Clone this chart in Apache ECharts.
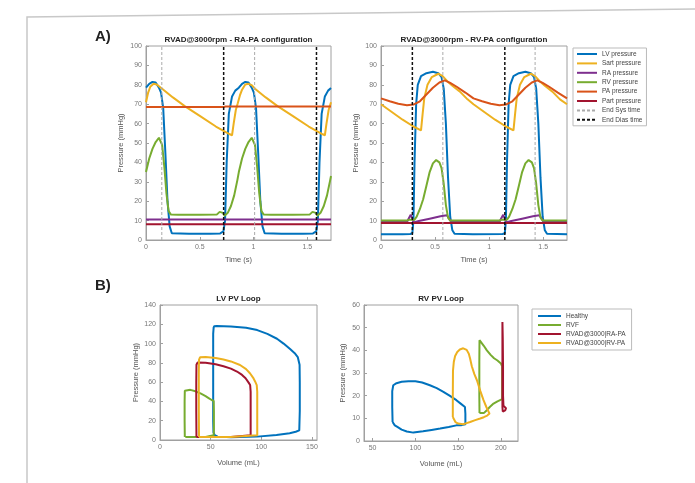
<!DOCTYPE html>
<html>
<head>
<meta charset="utf-8">
<title>RVAD pressures and PV loops</title>
<script src="https://cdn.jsdelivr.net/npm/echarts@6/dist/echarts.min.js"></script>
<style>
  html, body { margin: 0; padding: 0; background: #fff; }
  #chart { width: 695px; height: 483px; }
</style>
</head>
<body>
<div id="chart"></div>
<script>
// ---- A) RVAD@3000rpm, RA-PA configuration : [time (s), pressure (mmHg)]
var lvRaPa = [[0,78.5],[0.03,80.5],[0.06,81.5],[0.09,81.2],[0.12,78.5],[0.14,76],[0.16,68],[0.18,45],[0.20,20],[0.22,7],[0.24,3.5],[0.40,3.2],[0.60,3.2],[0.69,3.4],[0.72,4.5],[0.735,10],[0.75,40],[0.77,65],[0.80,74],[0.83,77],[0.863,78.5],[0.893,80.5],[0.923,81.5],[0.953,81.2],[0.983,78.5],[1.003,76],[1.023,68],[1.043,45],[1.063,20],[1.083,7],[1.103,3.5],[1.26,3.2],[1.46,3.2],[1.553,3.4],[1.583,4.5],[1.598,10],[1.613,40],[1.633,65],[1.663,74],[1.693,77],[1.72,78.3]];
var sartRaPa = [[0,71],[0.02,76],[0.04,79],[0.07,80.5],[0.10,80.2],[0.15,78],[0.25,73.5],[0.36,69],[0.50,64],[0.65,58.5],[0.78,54.5],[0.80,54],[0.815,60],[0.835,67],[0.853,70.5],[0.873,74.5],[0.893,77.5],[0.923,80.2],[0.953,80.5],[0.983,79.8],[1.013,78],[1.113,73.5],[1.223,69],[1.363,64],[1.513,58.5],[1.643,54.5],[1.663,54],[1.678,60],[1.698,67],[1.72,71]];
var raRaPa = [[0,10.6],[0.5,10.6],[1.0,10.6],[1.72,10.6]];
var rvRaPa = [[0,35],[0.03,42],[0.06,47],[0.09,50.5],[0.12,52.7],[0.135,53],[0.15,49],[0.17,38],[0.19,24],[0.21,15],[0.23,13.2],[0.30,13],[0.50,13],[0.66,13.2],[0.685,14.5],[0.70,15.5],[0.715,14],[0.73,12.5],[0.76,14],[0.79,17.5],[0.82,23],[0.85,31],[0.863,35],[0.893,42],[0.923,47],[0.953,50.5],[0.983,52.7],[0.998,53],[1.013,49],[1.033,38],[1.053,24],[1.073,15],[1.093,13.2],[1.163,13],[1.363,13],[1.523,13.2],[1.548,14.5],[1.563,15.5],[1.578,14],[1.593,12.5],[1.623,14],[1.653,17.5],[1.683,23],[1.713,31],[1.72,33]];
var paRaPa = [[0,68.5],[0.72,68.5],[0.74,68.8],[1.72,68.8]];
var partRaPa = [[0,8.1],[0.5,8.1],[1.0,8.1],[1.72,8.1]];
var endSysRaPa = [0.147, 1.01];
var endDiasRaPa = [0.722, 1.585];

// ---- A) RVAD@3000rpm, RV-PA configuration
var lvRvPa = [[0,3],[0.20,3],[0.27,3.1],[0.29,3.5],[0.30,10],[0.31,40],[0.325,70],[0.34,80],[0.37,84.5],[0.42,86],[0.48,86.7],[0.53,86],[0.56,84],[0.58,78],[0.60,60],[0.62,32],[0.64,12],[0.66,5],[0.68,3.2],[0.85,3],[1.125,3.1],[1.145,3.5],[1.155,10],[1.165,40],[1.18,70],[1.195,80],[1.225,84.5],[1.275,86],[1.335,86.7],[1.385,86],[1.415,84],[1.435,78],[1.455,60],[1.475,32],[1.495,12],[1.515,5],[1.535,3.2],[1.72,3]];
var sartRvPa = [[0,70],[0.10,66],[0.20,62],[0.30,58.5],[0.37,56.5],[0.385,65],[0.40,73],[0.43,80],[0.47,84],[0.53,85.7],[0.57,84.5],[0.61,82],[0.66,79.5],[0.73,76.5],[0.80,72.5],[0.855,70],[0.955,66],[1.055,62],[1.155,58.5],[1.225,56.5],[1.24,65],[1.255,73],[1.285,80],[1.325,84],[1.385,85.7],[1.425,84.5],[1.465,82],[1.515,79.5],[1.585,76.5],[1.655,72.5],[1.72,70]];
var raRvPa = [[0,9.3],[0.24,9.3],[0.26,11.5],[0.275,13],[0.29,11],[0.30,9],[0.35,9.8],[0.45,11],[0.55,12.2],[0.61,12.8],[0.63,11],[0.65,9.3],[1.095,9.3],[1.115,11.5],[1.13,13],[1.145,11],[1.155,9],[1.205,9.8],[1.305,11],[1.405,12.2],[1.465,12.8],[1.485,11],[1.505,9.3],[1.72,9.3]];
var rvRvPa = [[0,10],[0.24,10],[0.26,10.5],[0.275,11.5],[0.29,10.5],[0.31,10.5],[0.33,12],[0.36,16],[0.39,21],[0.42,28],[0.45,35],[0.48,39.5],[0.51,41.2],[0.54,40],[0.56,37],[0.58,29],[0.60,18],[0.62,11.5],[0.64,10],[0.85,10],[1.095,10],[1.115,10.5],[1.13,11.5],[1.145,10.5],[1.165,10.5],[1.185,12],[1.215,16],[1.245,21],[1.275,28],[1.305,35],[1.335,39.5],[1.365,41.2],[1.395,40],[1.415,37],[1.435,29],[1.455,18],[1.475,11.5],[1.495,10],[1.72,10]];
var paRvPa = [[0,73],[0.08,71.5],[0.16,70.2],[0.24,69.5],[0.30,69.8],[0.36,71.5],[0.42,75],[0.48,78.5],[0.54,81.2],[0.59,82.3],[0.64,81],[0.70,79],[0.78,76],[0.855,73],[0.935,71.5],[1.015,70.2],[1.095,69.5],[1.155,69.8],[1.215,71.5],[1.275,75],[1.335,78.5],[1.395,81.2],[1.445,82.3],[1.495,81],[1.555,79],[1.635,76],[1.72,73]];
var partRvPa = [[0,8.7],[0.5,8.7],[1.0,8.7],[1.72,8.7]];
var endSysRvPa = [0.572, 1.425];
var endDiasRvPa = [0.29, 1.145];

// ---- B) LV PV loops : [volume (mL), pressure (mmHg)]
var lvHealthy = [[53,117],[52.5,110],[52.5,60],[52.5,20],[52.8,8],[54,5],[57,3.5],[70,2.8],[96,3.5],[115,5.2],[128,7],[134,8.6],[137.5,10],[138,30],[138,60],[137.8,78],[136,86],[133,90],[128.7,94],[122,100],[115.5,105],[106,110],[96,114],[85,116.5],[70,117.8],[56,118.3],[53.5,118],[53,117]];
var lvRvf = [[24.5,3],[24.3,20],[24.3,40],[24.5,51],[26,52.3],[30,52],[35,50.5],[40,48.3],[45,45.5],[48,43.5],[51,41.5],[53,40.5],[53.2,30],[53.2,10],[53,5],[52,3.5],[45,3.2],[35,3],[25,3],[24.5,3]];
var lvRaPaLoop = [[36,3],[35.8,30],[35.8,60],[36,78],[37,80.3],[38,80.5],[45,80],[55,78.5],[62.7,76.5],[70,74],[76,71],[81,67.5],[84.5,64],[87.5,59.5],[89,57],[89.5,50],[89.5,20],[89.5,5],[88,3.3],[70,3],[50,3],[36,3]];
var lvRvPaLoop = [[38.5,3],[38.3,30],[38.3,70],[38.5,83],[39.5,85.7],[45,86],[55,85],[62.7,83.5],[70,81.5],[79,77.8],[85,73.5],[89,69],[92,64.5],[94,60.5],[95.5,57],[96,50],[96,20],[96,5],[94.5,3.2],[70,3],[50,3],[38.5,3]];

// ---- B) RV PV loops
var rvHealthy = [[73.4,8.4],[73,15],[73,22],[74.2,24.6],[78,25.5],[84,26.1],[92,26.4],[100,26.4],[108,25.8],[117,24.6],[125,23.3],[132.8,21.7],[140,20],[148,18],[153,16.5],[158,15],[158.5,12],[158.5,7.4],[154,7],[148,6.9],[139,6.2],[129,5.5],[119,4.9],[109,4.3],[97.7,3.7],[90,4.2],[84,5],[79,6.2],[76,6.9],[73.4,8.4]];
var rvRvf = [[175,12.4],[174.8,20],[174.8,35],[175,44.5],[176,44.3],[180,42],[183.6,40],[188,38],[192,36.5],[196,35.5],[200,34.2],[201.5,33],[201.5,25],[201.5,18.5],[196,17.5],[191.4,16.5],[187,15],[183.6,13.6],[180,12.3],[177.7,11.8],[175,12.4]];
var rvRaPaLoop = [[201.8,52.5],[201.8,40],[201.8,25],[201.8,15],[202.2,13],[203.5,12.6],[205,13.5],[206,14.5],[204.5,14.3],[203,15.5],[202.5,20],[202.5,33],[202.2,45],[201.8,52.5]];
var rvRvPaLoop = [[143.8,10.6],[143.8,20],[144,31],[145,35],[146.5,37.5],[149,39.3],[152,40.4],[156,40.9],[160,40.2],[162.5,38.5],[164,36.4],[166,33],[169,29.5],[172,26.8],[176,22],[179.7,18],[183,15],[186.7,12.1],[184,11.2],[180,10.5],[175.8,9.9],[170,9.2],[164,8.4],[160,7.9],[156,7.4],[150,7.7],[147,8.3],[145.3,9.1],[143.8,10.6]];

var timeTicks = [0, 0.5, 1, 1.5];
var lvVolTicks = [0, 50, 100, 150];
var rvVolTicks = [50, 100, 150, 200];

var topNames = ['LV pressure', 'Sart pressure', 'RA pressure', 'RV pressure', 'PA pressure', 'Part pressure', 'End Sys time', 'End Dias time'];
var loopNames = ['Healthy', 'RVF', 'RVAD@3000|RA-PA', 'RVAD@3000|RV-PA'];

var C = {
  blue: '#0072BD', yellow: '#EDB120', purple: '#7E2F8E',
  green: '#77AC30', orange: '#D95319', red: '#A2142F'
};
var FONT = '"Liberation Sans", Arial, sans-serif';
var AXIS = '#a0a0a0';

function curve(name, data, color, gi) {
  return {
    type: 'line', name: name, data: data,
    xAxisIndex: gi, yAxisIndex: gi,
    symbol: 'none', showSymbol: false,
    lineStyle: { color: color, width: 2 },
    itemStyle: { color: color },
    z: 2
  };
}

function vlines(name, times, gi, color, width, dash) {
  return times.map(function (t) {
    return {
      type: 'line', name: name, data: [[t, 0], [t, 100]],
      xAxisIndex: gi, yAxisIndex: gi,
      symbol: 'none', showSymbol: false,
      lineStyle: { color: color, width: width, type: dash },
      itemStyle: { color: color },
      z: 3
    };
  });
}

function xAx(gi, min, max, ticks, gap) {
  return {
    type: 'value', gridIndex: gi, min: min, max: max,
    name: gi < 2 ? 'Time (s)' : 'Volume (mL)',
    nameLocation: 'middle', nameGap: gap,
    nameTextStyle: { fontSize: 7.5, color: '#555', fontFamily: FONT },
    axisLine: { show: true, onZero: false, lineStyle: { color: AXIS } },
    axisTick: { show: true, inside: true, length: 3, customValues: ticks, lineStyle: { color: AXIS } },
    axisLabel: { fontSize: 7, color: '#777', margin: 4, fontFamily: FONT, customValues: ticks },
    splitLine: { show: false }
  };
}

function yAx(gi, max, step, gap) {
  return {
    type: 'value', gridIndex: gi, min: 0, max: max, interval: step,
    name: 'Pressure (mmHg)',
    nameLocation: 'middle', nameGap: gap,
    nameTextStyle: { fontSize: 7.5, color: '#555', fontFamily: FONT },
    axisLine: { show: true, onZero: false, lineStyle: { color: AXIS } },
    axisTick: { show: true, inside: true, length: 3, lineStyle: { color: AXIS } },
    axisLabel: { fontSize: 7, color: '#777', margin: 4, fontFamily: FONT },
    splitLine: { show: false }
  };
}

function label(text, x, y, size, weight, align) {
  return {
    type: 'text', x: x, y: y, silent: true,
    style: {
      text: text, fill: '#222', textAlign: align || 'center', textVerticalAlign: 'middle',
      font: weight + ' ' + size + 'px ' + FONT
    }
  };
}

var series = [].concat(
  curve('LV pressure', lvRaPa, C.blue, 0),
  curve('Sart pressure', sartRaPa, C.yellow, 0),
  curve('RA pressure', raRaPa, C.purple, 0),
  curve('RV pressure', rvRaPa, C.green, 0),
  curve('PA pressure', paRaPa, C.orange, 0),
  curve('Part pressure', partRaPa, C.red, 0),
  vlines('End Sys time', endSysRaPa, 0, '#aaaaaa', 1, [3, 2]),
  vlines('End Dias time', endDiasRaPa, 0, '#111111', 1.5, [3, 2]),
  curve('LV pressure', lvRvPa, C.blue, 1),
  curve('Sart pressure', sartRvPa, C.yellow, 1),
  curve('RA pressure', raRvPa, C.purple, 1),
  curve('RV pressure', rvRvPa, C.green, 1),
  curve('PA pressure', paRvPa, C.orange, 1),
  curve('Part pressure', partRvPa, C.red, 1),
  vlines('End Sys time', endSysRvPa, 1, '#aaaaaa', 1, [3, 2]),
  vlines('End Dias time', endDiasRvPa, 1, '#111111', 1.5, [3, 2]),
  curve('Healthy', lvHealthy, C.blue, 2),
  curve('RVF', lvRvf, C.green, 2),
  curve('RVAD@3000|RA-PA', lvRaPaLoop, C.red, 2),
  curve('RVAD@3000|RV-PA', lvRvPaLoop, C.yellow, 2),
  curve('Healthy', rvHealthy, C.blue, 3),
  curve('RVF', rvRvf, C.green, 3),
  curve('RVAD@3000|RA-PA', rvRaPaLoop, C.red, 3),
  curve('RVAD@3000|RV-PA', rvRvPaLoop, C.yellow, 3)
);

var legendBase = {
  orient: 'vertical', itemHeight: 7,
  itemStyle: { opacity: 0, borderWidth: 0 },
  borderColor: '#bbb', borderWidth: 1, backgroundColor: '#fff',
  textStyle: { fontSize: 6.5, lineHeight: 8, color: '#444', fontFamily: FONT }
};

var chart = echarts.init(document.getElementById('chart'), null, { renderer: 'canvas' });
chart.setOption({
  animation: false,
  backgroundColor: '#fff',
  textStyle: { fontFamily: FONT },
  grid: [
    { left: 146, top: 46, width: 185, height: 194, show: true, borderColor: AXIS, borderWidth: 1 },
    { left: 381, top: 46, width: 186, height: 194, show: true, borderColor: AXIS, borderWidth: 1 },
    { left: 160, top: 305, width: 157, height: 135, show: true, borderColor: AXIS, borderWidth: 1 },
    { left: 364, top: 305, width: 154, height: 136, show: true, borderColor: AXIS, borderWidth: 1 }
  ],
  xAxis: [
    xAx(0, 0, 1.72, timeTicks, 16),
    xAx(1, 0, 1.72, timeTicks, 16),
    xAx(2, 0, 155, lvVolTicks, 19),
    xAx(3, 40, 220, rvVolTicks, 19)
  ],
  yAxis: [
    yAx(0, 100, 10, 21),
    yAx(1, 100, 10, 21),
    yAx(2, 140, 20, 20),
    yAx(3, 60, 10, 17)
  ],
  legend: [
    Object.assign({}, legendBase, {
      data: topNames, left: 573, top: 48,
      padding: [2, 4, 2, 3], itemGap: 1.4, itemWidth: 20
    }),
    Object.assign({}, legendBase, {
      data: loopNames, left: 532, top: 309,
      padding: [3, 6, 3, 5], itemGap: 1, itemWidth: 23
    })
  ],
  graphic: [
    { type: 'polyline', silent: true, shape: { points: [[27, 483], [27, 17], [695, 9]] },
      style: { stroke: '#c8c8c8', lineWidth: 1.5, fill: null } },
    label('A)', 95, 37, 15, 'bold', 'left'),
    label('B)', 95, 286, 15, 'bold', 'left'),
    label('RVAD@3000rpm - RA-PA configuration', 238.5, 40, 8, 'bold'),
    label('RVAD@3000rpm - RV-PA configuration', 474, 40, 8, 'bold'),
    label('LV PV Loop', 238.5, 299, 8, 'bold'),
    label('RV PV Loop', 441, 299, 8, 'bold')
  ],
  series: series
});
</script>
</body>
</html>
